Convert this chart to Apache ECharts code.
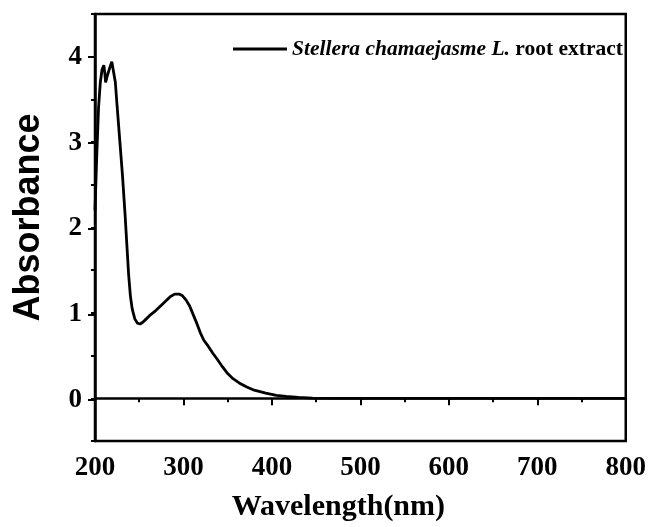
<!DOCTYPE html>
<html>
<head>
<meta charset="utf-8">
<script src="https://cdn.jsdelivr.net/npm/echarts@6/dist/echarts.min.js"></script>
<style>
  html, body { margin: 0; padding: 0; background: #fff; }
  #chart { width: 649px; height: 527px; }
</style>
</head>
<body>
<div id="chart"></div>
<script>
// UV-Vis absorption spectrum of the root extract
const wavelength = [
  200, 202, 204, 206, 208, 210, 211, 212, 214, 217, 219, 221, 223, 225, 228,
  231, 234, 236, 238, 240, 242, 245, 248, 251, 254, 258, 263, 269, 275, 280,
  285, 290, 295, 299, 303, 307, 311, 315, 319, 323, 328, 333, 338, 344, 350,
  356, 363, 371, 380, 393, 405, 416, 430, 446, 470, 500, 600, 700, 800
];
const absorbance = [
  2.20, 2.85, 3.40, 3.70, 3.85, 3.90, 3.82, 3.70, 3.78, 3.88, 3.94, 3.96, 3.70, 3.42, 3.02,
  2.62, 2.15, 1.80, 1.45, 1.20, 1.05, 0.93, 0.88, 0.87, 0.89, 0.93, 0.98, 1.03, 1.09, 1.14,
  1.19, 1.22, 1.22, 1.20, 1.15, 1.08, 0.98, 0.88, 0.77, 0.68, 0.61, 0.53, 0.46, 0.37, 0.29,
  0.23, 0.18, 0.135, 0.095, 0.06, 0.035, 0.022, 0.01, 0.003, 0, 0, 0, 0, 0
];
const seriesName = 'Stellera chamaejasme L. root extract';
const xTitle = 'Wavelength(nm)';
const yTitle = 'Absorbance';

const serif = '"Liberation Serif", "Times New Roman", serif';
const sans = '"Liberation Sans", Arial, sans-serif';

// plot frame
const W = 649, H = 527;
const frame = { left: 95, right: 21, top: 14, bottom: 84 };
const yMin = -0.5, yMax = 4.5;
const plotH = H - frame.top - frame.bottom;
// inner grid that spans exactly 0..4 so integer ticks land on whole units
const pxOf = v => frame.top + (yMax - v) / (yMax - yMin) * plotH;
const inner = { left: frame.left, right: frame.right, top: pxOf(4), bottom: H - pxOf(0) };

const chart = echarts.init(document.getElementById('chart'), null, { renderer: 'canvas' });
chart.setOption({
  animation: false,
  backgroundColor: '#fff',
  grid: [
    Object.assign({ show: true, borderColor: '#000', borderWidth: 2.5, backgroundColor: 'transparent' }, frame),
    inner
  ],
  legend: {
    left: 228, top: 33,
    icon: 'rect',
    itemWidth: 54, itemHeight: 3, itemGap: 6,
    data: [seriesName],
    formatter: () => '{i|Stellera chamaejasme L.}{b| root extract}',
    textStyle: {
      rich: {
        i: { fontFamily: serif, fontStyle: 'italic', fontWeight: 'bold', fontSize: 21.5, color: '#000' },
        b: { fontFamily: serif, fontWeight: 'bold', fontSize: 21.5, color: '#000' }
      }
    }
  },
  xAxis: [
    {
      gridIndex: 0, type: 'value', min: 200, max: 800, interval: 100,
      name: xTitle, nameLocation: 'middle', nameGap: 51,
      nameTextStyle: { fontFamily: serif, fontWeight: 'bold', fontSize: 30, color: '#000', padding: [0, 44, 0, 0] },
      axisLine: { show: true, lineStyle: { color: '#000', width: 2.5 } },
      axisTick: { show: true, inside: false, length: 7, lineStyle: { color: '#000', width: 2 } },
      minorTick: { show: true, splitNumber: 2, length: 4, lineStyle: { color: '#000', width: 2 } },
      axisLabel: { fontFamily: serif, fontWeight: 'bold', fontSize: 27, color: '#000', margin: 14 },
      splitLine: { show: false }
    },
    {
      gridIndex: 1, type: 'value', min: 200, max: 800, show: false
    }
  ],
  yAxis: [
    {
      gridIndex: 0, type: 'value', min: yMin, max: yMax, interval: 0.5,
      name: yTitle, nameLocation: 'middle', nameGap: 48, nameRotate: 90,
      nameTextStyle: { fontFamily: sans, fontWeight: 'bold', fontSize: 36, color: '#000', padding: [0, 0, 0, 20] },
      axisLine: { show: true, lineStyle: { color: '#000', width: 2.5 } },
      axisTick: { show: true, length: 4, lineStyle: { color: '#000', width: 2 } },
      axisLabel: { show: false },
      splitLine: { show: false }
    },
    {
      gridIndex: 1, type: 'value', min: 0, max: 4, interval: 1,
      axisLine: { show: false },
      axisTick: { show: true, length: 7, lineStyle: { color: '#000', width: 2 } },
      axisLabel: { fontFamily: serif, fontWeight: 'bold', fontSize: 27, color: '#000', margin: 13 },
      splitLine: { show: false }
    }
  ],
  series: [{
    name: seriesName,
    type: 'line',
    xAxisIndex: 0, yAxisIndex: 0,
    data: wavelength.map((w, i) => [w, absorbance[i]]),
    showSymbol: false, symbol: 'none',
    smooth: false,
    lineStyle: { color: '#000', width: 2.8 },
    itemStyle: { color: '#000' }
  }]
});
</script>
</body>
</html>
